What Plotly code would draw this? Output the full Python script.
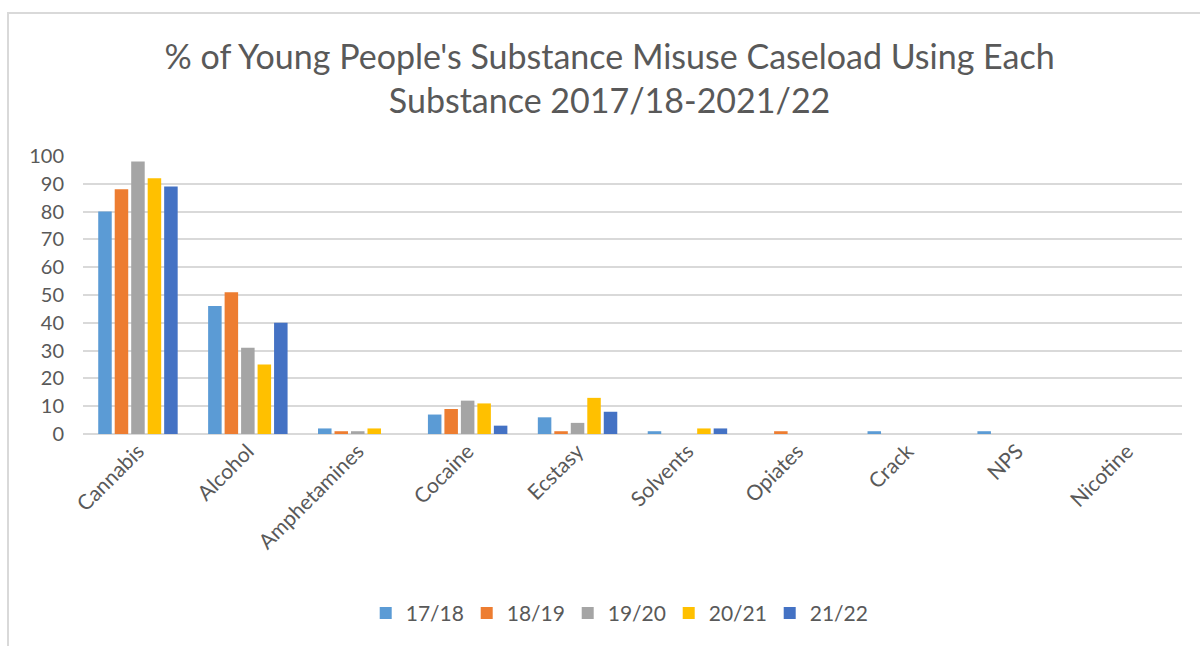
import plotly.graph_objects as go

substances = ["Cannabis", "Alcohol", "Amphetamines", "Cocaine", "Ecstasy",
              "Solvents", "Opiates", "Crack", "NPS", "Nicotine"]

y1718 = [80, 46, 2, 7, 6, 1, 0, 1, 1, 0]
y1819 = [88, 51, 1, 9, 1, 0, 1, 0, 0, 0]
y1920 = [98, 31, 1, 12, 4, 0, 0, 0, 0, 0]
y2021 = [92, 25, 2, 11, 13, 2, 0, 0, 0, 0]
y2122 = [89, 40, 0, 3, 8, 2, 0, 0, 0, 0]

series = [
    ("17/18", y1718, "#5B9BD5"),
    ("18/19", y1819, "#ED7D31"),
    ("19/20", y1920, "#A5A5A5"),
    ("20/21", y2021, "#FFC000"),
    ("21/22", y2122, "#4472C4"),
]

FONT = "Lato, Open Sans, sans-serif"
TXT = "#595959"

fig = go.Figure()
for name, vals, col in series:
    fig.add_trace(go.Bar(name=name, x=substances, y=vals, marker_color=col,
                         marker_line_width=0))

W, H = 1200, 646
L, R, T, B = 83, 18, 156, 212
pw, ph = W - L - R, H - T - B

fig.update_layout(
    width=W, height=H,
    margin=dict(l=L, r=R, t=T, b=B),
    paper_bgcolor="white", plot_bgcolor="white",
    barmode="group", bargap=0.25, bargroupgap=0.18,
    font=dict(family=FONT, color=TXT),
    title=dict(
        text="% of Young People's Substance Misuse Caseload Using Each<br>Substance 2017/18-2021/22",
        x=0.508, xanchor="center", y=0.893, yanchor="middle",
        font=dict(size=34, color=TXT, family=FONT),
    ),
    xaxis=dict(tickangle=-45, tickfont=dict(size=21, color=TXT),
               showgrid=False, showline=False, ticks=""),
    yaxis=dict(range=[0, 100], dtick=10, tickfont=dict(size=20, color=TXT),
               gridcolor="#D9D9D9", gridwidth=1.5, zeroline=True,
               zerolinecolor="#D9D9D9", zerolinewidth=1.5,
               showline=False, ticks="", ticklabelstandoff=18),
    legend=dict(orientation="h", x=0.487, xanchor="center", y=-0.645, yanchor="middle",
                font=dict(size=21, color=TXT), traceorder="normal",
                itemwidth=30, entrywidth=56, entrywidthmode="pixels"),
    shapes=[dict(type="rect", xref="paper", yref="paper",
                 x0=(8 - L) / pw, x1=(W + 20 - L) / pw,
                 y0=-(B + 20) / ph, y1=(H - B - 13) / ph,
                 line=dict(color="#D9D9D9", width=2), layer="below")],
)

fig.write_html("out.html")
